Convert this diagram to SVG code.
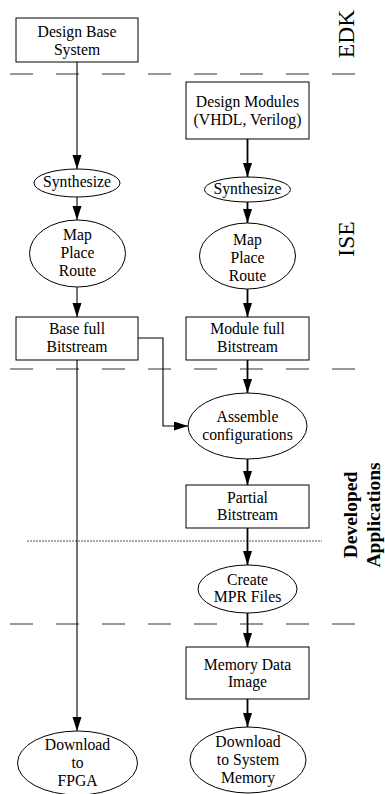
<svg xmlns="http://www.w3.org/2000/svg" width="385" height="794" viewBox="0 0 385 794">
<style>
.n{fill:#fff;stroke:#000;stroke-width:1}
.t{font-family:"Liberation Serif","Times New Roman",serif;font-size:15.7px;fill:#000;text-anchor:middle}
.lbl{font-family:"Liberation Serif","Times New Roman",serif;font-size:23.5px;fill:#000;text-anchor:middle}
.lblb{font-family:"Liberation Serif","Times New Roman",serif;font-size:19.5px;font-weight:bold;fill:#000;text-anchor:middle}
.dash{stroke:#333;stroke-width:1.2;stroke-dasharray:23 23;fill:none}
.dot{stroke:#555;stroke-width:1;stroke-dasharray:2 1;fill:none}
.c{stroke:#000;stroke-width:1.1;fill:none;marker-end:url(#ah)}
.cb{stroke:#000;stroke-width:1.8;fill:none;marker-end:url(#ah)}
</style>
<defs>
<marker id="ah" markerUnits="userSpaceOnUse" markerWidth="15" markerHeight="10" refX="14" refY="4.5" orient="auto">
<path d="M0,0 L14,4.5 L0,9 z" fill="#000"/>
</marker>
</defs>
<rect width="385" height="794" fill="#fff"/>
<g id="separators">
<line class="dash" x1="10" y1="74" x2="356" y2="74"/>
<line class="dash" x1="10" y1="369" x2="356" y2="369"/>
<line class="dot" x1="27" y1="541" x2="322" y2="541"/>
<line class="dash" x1="10" y1="624" x2="356" y2="624"/>
</g>
<g id="labels">
<text class="lbl" transform="translate(354,34) rotate(-90)">EDK</text>
<text class="lbl" transform="translate(354,239) rotate(-90)">ISE</text>
<text class="lblb" transform="translate(357,515) rotate(-90)">Developed</text>
<text class="lblb" transform="translate(380,515) rotate(-90)">Applications</text>
</g>
<g id="connectors">
<line class="c" x1="77" y1="62" x2="77" y2="169"/>
<line class="c" x1="77" y1="197" x2="77" y2="220"/>
<line class="c" x1="77" y1="287" x2="77" y2="317"/>
<line class="c" x1="77" y1="360" x2="77" y2="731"/>
<polyline class="c" points="138,338 163,338 163,426 188,426"/>
<line class="cb" x1="247.5" y1="139" x2="247.5" y2="177"/>
<line class="cb" x1="247.5" y1="202" x2="247.5" y2="223"/>
<line class="cb" x1="247.5" y1="289" x2="247.5" y2="317"/>
<line class="cb" x1="247.5" y1="360" x2="247.5" y2="393"/>
<line class="cb" x1="247.5" y1="459" x2="247.5" y2="485"/>
<line class="cb" x1="247.5" y1="528" x2="247.5" y2="565"/>
<line class="cb" x1="247.5" y1="613" x2="247.5" y2="647"/>
<line class="cb" x1="247.5" y1="699" x2="247.5" y2="727"/>
</g>
<g id="design-base">
<rect class="n" x="16" y="18" width="122" height="44"/>
<text class="t" x="77" y="37">Design Base</text>
<text class="t" x="77" y="55">System</text>
</g>
<g id="design-modules">
<rect class="n" x="186" y="82" width="123" height="57"/>
<text class="t" x="247.5" y="107">Design Modules</text>
<text class="t" x="247.5" y="125">(VHDL, Verilog)</text>
</g>
<g id="synth-left">
<ellipse class="n" cx="77" cy="183" rx="43" ry="14"/>
<text class="t" x="77" y="187">Synthesize</text>
</g>
<g id="synth-right">
<ellipse class="n" cx="247.5" cy="189.5" rx="43" ry="12.5"/>
<text class="t" x="247.5" y="194">Synthesize</text>
</g>
<g id="mpr-left">
<ellipse class="n" cx="77.5" cy="253.5" rx="48" ry="33.5"/>
<text class="t" x="77.5" y="240">Map</text>
<text class="t" x="77.5" y="258">Place</text>
<text class="t" x="77.5" y="276">Route</text>
</g>
<g id="mpr-right">
<ellipse class="n" cx="247.5" cy="256" rx="48" ry="33"/>
<text class="t" x="247.5" y="245">Map</text>
<text class="t" x="247.5" y="263">Place</text>
<text class="t" x="247.5" y="281">Route</text>
</g>
<g id="base-bitstream">
<rect class="n" x="16" y="317" width="122" height="43"/>
<text class="t" x="77" y="334">Base full</text>
<text class="t" x="77" y="352">Bitstream</text>
</g>
<g id="module-bitstream">
<rect class="n" x="186" y="317" width="123" height="43"/>
<text class="t" x="247.5" y="334">Module full</text>
<text class="t" x="247.5" y="352">Bitstream</text>
</g>
<g id="assemble">
<ellipse class="n" cx="247.5" cy="426" rx="59.5" ry="33"/>
<text class="t" x="247.5" y="422">Assemble</text>
<text class="t" x="247.5" y="440">configurations</text>
</g>
<g id="partial">
<rect class="n" x="186" y="485" width="123" height="43"/>
<text class="t" x="247.5" y="503">Partial</text>
<text class="t" x="247.5" y="520">Bitstream</text>
</g>
<g id="create-mpr">
<ellipse class="n" cx="247.5" cy="589" rx="49.5" ry="24"/>
<text class="t" x="247.5" y="585">Create</text>
<text class="t" x="247.5" y="602">MPR Files</text>
</g>
<g id="memory-image">
<rect class="n" x="186" y="647" width="123" height="52"/>
<text class="t" x="247.5" y="670">Memory Data</text>
<text class="t" x="247.5" y="687">Image</text>
</g>
<g id="download-fpga">
<ellipse class="n" cx="77.5" cy="763" rx="60" ry="32"/>
<text class="t" x="77.5" y="750">Download</text>
<text class="t" x="77.5" y="768">to</text>
<text class="t" x="77.5" y="786">FPGA</text>
</g>
<g id="download-memory">
<ellipse class="n" cx="248" cy="760" rx="58" ry="33"/>
<text class="t" x="248" y="747">Download</text>
<text class="t" x="248" y="765">to System</text>
<text class="t" x="248" y="783">Memory</text>
</g>
</svg>
